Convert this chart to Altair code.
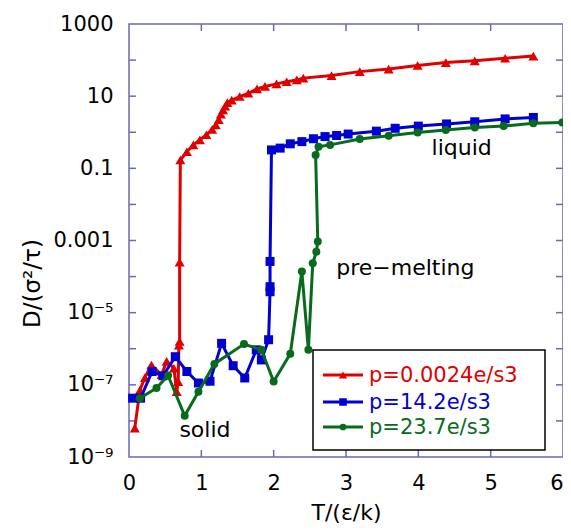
import altair as alt
import pandas as pd

# ---------------- data (T, log10 D) ----------------
red_T = [0.08, 0.15, 0.22, 0.31, 0.45, 0.52, 0.62, 0.66, 0.68, 0.69, 0.70, 0.70,
         0.71, 0.80, 0.89, 0.98, 1.07, 1.15, 1.20, 1.24, 1.27, 1.30, 1.33, 1.36,
         1.42, 1.53, 1.65, 1.77, 1.88, 2.04, 2.18, 2.32, 2.41, 2.80, 3.19, 3.59,
         3.99, 4.38, 4.78, 5.20, 5.59]
red_logD = [-8.2, -7.15, -6.8, -6.45, -6.72, -6.35, -6.54, -7.19, -6.91, -5.9, -5.8, -3.6,
            -0.77, -0.54, -0.35, -0.21, -0.07, 0.08, 0.2, 0.35, 0.5, 0.62, 0.72, 0.82,
            0.89, 0.99, 1.08, 1.2, 1.27, 1.34, 1.40, 1.45, 1.50, 1.57, 1.68, 1.75,
            1.85, 1.93, 1.98, 2.05, 2.11]

blue_T = [0.05, 0.16, 0.32, 0.47, 0.64, 0.80, 0.96, 1.12, 1.28, 1.44, 1.60, 1.76,
          1.83, 1.93, 1.95, 1.95, 1.95, 1.97, 2.09, 2.23, 2.39, 2.55, 2.71, 2.87,
          3.03, 3.42, 3.68, 4.00, 4.39, 4.78, 5.20, 5.59]
blue_logD = [-7.37, -7.37, -6.63, -6.75, -6.22, -6.63, -6.95, -6.9, -5.85, -6.47, -6.81, -6.03,
             -6.31, -5.75, -4.42, -4.28, -3.58, -0.49, -0.44, -0.32, -0.26, -0.18, -0.12, -0.09,
             -0.05, 0.03, 0.11, 0.17, 0.23, 0.29, 0.37, 0.41]

green_T = [0.15, 0.38, 0.54, 0.77, 0.96, 1.18, 1.59, 1.83, 2.00, 2.23, 2.39, 2.48,
           2.54, 2.59, 2.61, 2.58, 2.62, 2.78, 3.19, 3.59, 3.99, 4.38, 4.78, 5.18,
           5.59, 5.99]
green_logD = [-7.37, -7.09, -6.74, -7.86, -7.19, -6.42, -5.87, -6.03, -6.91, -6.14, -3.86, -6.03,
              -3.63, -3.31, -3.03, -0.63, -0.40, -0.35, -0.19, -0.10, -0.01, 0.06, 0.13, 0.17,
              0.25, 0.27]

series_names = ["p=0.0024e/s3", "p=14.2e/s3", "p=23.7e/s3"]
series_colors = ["#e00000", "#0000d0", "#086a1c"]
series_shapes = ["triangle-up", "square", "circle"]
series_sizes = [100, 81, 64]
series_T = [red_T, blue_T, green_T]
series_L = [red_logD, blue_logD, green_logD]

x_ticks = [0, 1, 2, 3, 4, 5, 6]
y_label_exps = [3, 1, -1, -3, -5, -7, -9]
y_labels = ["1000", "10", "0.1", "0.001", "10⁻⁵", "10⁻⁷", "10⁻⁹"]
y_tick_exps = list(range(-9, 4))

annot_text = ["solid", "liquid", "pre−melting"]
annot_T = [1.05, 4.6, 3.82]
annot_logD = [-8.25, -0.43, -3.76]

# ---------------- layout ----------------
W, H = 434, 433
FONT = "DejaVu Sans"
AXC = "#6a6ab4"

xscale = alt.Scale(domain=[0, 6], nice=False, zero=False)
yscale = alt.Scale(type="log", domain=[1e-9, 1e3], nice=False)

label_expr = ""
for e, lab in zip(y_label_exps, y_labels):
    label_expr += f"round(log(datum.value)/LN10) == {e} ? '{lab}' : "
label_expr += "''"

xaxis = alt.Axis(values=x_ticks, format="d", ticks=False, domain=False, grid=False,
                 labelFlush=False, labelOverlap=False, labelBound=False,
                 labelAlign=alt.condition(f"datum.value == {x_ticks[-1]}",
                                          alt.value("right"), alt.value("center")),
                 labelFont=FONT, labelFontSize=21, labelColor="black", labelPadding=15,
                 title="T/(ε/k)", titleFont=FONT, titleFontSize=22, titleFontWeight="normal",
                 titleColor="black", titleY=62, titleBaseline="alphabetic")
yaxis = alt.Axis(values=[10.0 ** e for e in y_label_exps], labelExpr=label_expr,
                 ticks=False, domain=False, grid=False, labelFlush=False, labelOverlap=False,
                 labelFont=FONT, labelFontSize=21, labelColor="black", labelPadding=16,
                 title="D/(σ²/τ)", titleFont=FONT, titleFontSize=23, titleFontWeight="normal",
                 titleColor="black", titleX=-97, titleY=259, titleBaseline="middle",
                 titleAlign="center")

layers = []

# tick marks (inward) on all four sides
xt = pd.DataFrame({"T": x_ticks[1:-1]})
layers.append(alt.Chart(xt).mark_rule(color=AXC, strokeWidth=1.5).encode(
    x=alt.X("T:Q", scale=xscale, axis=xaxis), y=alt.value(H), y2=alt.value(H - 7)))
layers.append(alt.Chart(xt).mark_rule(color=AXC, strokeWidth=1.5).encode(
    x=alt.X("T:Q", scale=xscale, axis=xaxis), y=alt.value(0), y2=alt.value(7)))
yt = pd.DataFrame({"D": [10.0 ** e for e in y_tick_exps[1:-1]]})
layers.append(alt.Chart(yt).mark_rule(color=AXC, strokeWidth=1.5).encode(
    y=alt.Y("D:Q", scale=yscale, axis=yaxis), x=alt.value(0), x2=alt.value(7)))
layers.append(alt.Chart(yt).mark_rule(color=AXC, strokeWidth=1.5).encode(
    y=alt.Y("D:Q", scale=yscale, axis=yaxis), x=alt.value(W - 7), x2=alt.value(W)))

# data series
for name, T, L, color, shape, size in zip(series_names, series_T, series_L,
                                          series_colors, series_shapes, series_sizes):
    df = pd.DataFrame({"T": T, "D": [10.0 ** v for v in L], "i": list(range(len(T)))})
    base = alt.Chart(df).encode(
        x=alt.X("T:Q", scale=xscale, axis=xaxis),
        y=alt.Y("D:Q", scale=yscale, axis=yaxis),
        order=alt.Order("i:Q"))
    layers.append(base.mark_line(color=color, strokeWidth=3))
    layers.append(base.mark_point(shape=shape, filled=True, size=size, color=color,
                                  opacity=1, strokeWidth=0))

# annotations
adf = pd.DataFrame({"T": annot_T, "D": [10.0 ** v for v in annot_logD], "txt": annot_text})
layers.append(alt.Chart(adf).mark_text(font=FONT, fontSize=22, color="black",
                                       align="center", baseline="middle").encode(
    x=alt.X("T:Q", scale=xscale, axis=xaxis),
    y=alt.Y("D:Q", scale=yscale, axis=yaxis),
    text="txt:N"))

# legend box (manual)
LX0, LX1, LY0, LY1 = 184, 416, 326, 426
layers.append(alt.Chart(pd.DataFrame({"a": [0]})).mark_rect(
    fill="white", stroke="black", strokeWidth=1.5).encode(
    x=alt.value(LX0), x2=alt.value(LX1), y=alt.value(LY0), y2=alt.value(LY1)))
row_y = [351, 378, 403]
for name, color, shape, size, ry in zip(series_names, series_colors, series_shapes,
                                        series_sizes, row_y):
    one = pd.DataFrame({"txt": [name]})
    layers.append(alt.Chart(one).mark_rule(color=color, strokeWidth=3).encode(
        x=alt.value(194), x2=alt.value(234), y=alt.value(ry)))
    layers.append(alt.Chart(one).mark_point(shape=shape, filled=True, size=size * 0.7,
                                            color=color, opacity=1, strokeWidth=0).encode(
        x=alt.value(214), y=alt.value(ry)))
    layers.append(alt.Chart(one).mark_text(font=FONT, fontSize=21, color=color,
                                           align="left", baseline="middle").encode(
        x=alt.value(240), y=alt.value(ry + 1), text="txt:N"))

chart = alt.layer(*layers).properties(
    width=W, height=H,
    autosize=alt.AutoSizeParams(type="none"),
    padding={"left": 121, "top": 16, "right": 0, "bottom": 66},
).configure_view(stroke=AXC, strokeWidth=1.5)

chart.save("out.html", embed_options={"renderer": "svg", "actions": False})
